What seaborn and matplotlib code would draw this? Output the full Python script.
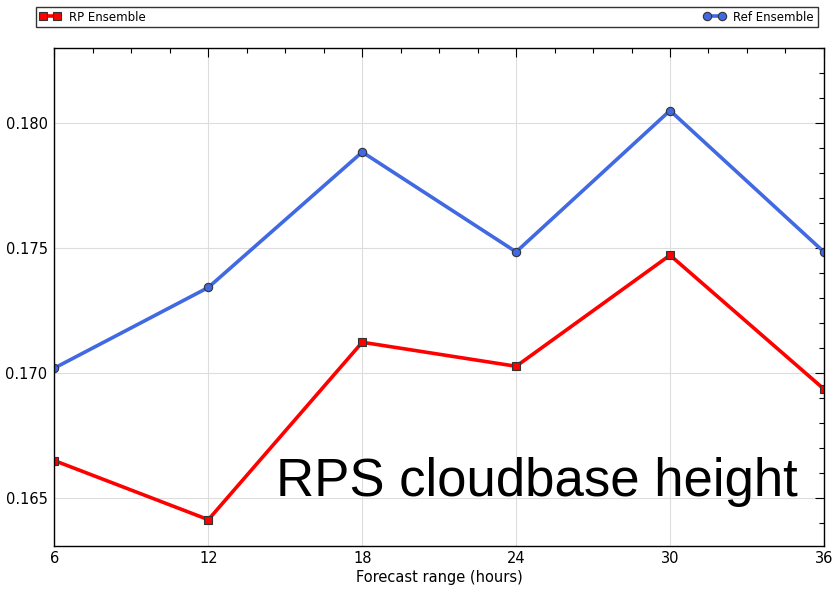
import matplotlib
matplotlib.use("Agg")
import matplotlib.pyplot as plt
import seaborn as sns
import pandas as pd
from matplotlib.ticker import MultipleLocator

hours = [6, 12, 18, 24, 30, 36]
rp_ensemble = [0.1665, 0.16414, 0.17123, 0.17027, 0.17471, 0.16936]
ref_ensemble = [0.17020, 0.17342, 0.17883, 0.17484, 0.18049, 0.17484]
series_names = ["RP Ensemble", "Ref Ensemble"]
yticks = [0.165, 0.170, 0.175, 0.180]
xticks = [6, 12, 18, 24, 30, 36]

df = pd.DataFrame({
    "hours": hours * 2,
    "value": rp_ensemble + ref_ensemble,
    "series": [series_names[0]] * len(hours) + [series_names[1]] * len(hours),
})

sns.set_style("white")
plt.rcParams["font.family"] = ["DejaVu Sans"]
plt.rcParams["text.color"] = "black"
plt.rcParams["axes.labelcolor"] = "black"
plt.rcParams["xtick.color"] = "black"
plt.rcParams["ytick.color"] = "black"

fig = plt.figure(figsize=(8.34, 5.89), dpi=100)
ax = fig.add_axes([0.0653, 0.0735, 0.9226, 0.8455])

palette = {"RP Ensemble": "#ff0000", "Ref Ensemble": "#4169e1"}
markers = {"RP Ensemble": "s", "Ref Ensemble": "o"}
sns.lineplot(data=df, x="hours", y="value", hue="series", style="series",
             palette=palette, markers=markers, dashes=False, linewidth=2.6,
             markersize=6, markeredgecolor="#333333", markeredgewidth=0.8,
             ax=ax, legend=True)

ax.set_xlim(6, 36)
ax.set_ylim(0.1631, 0.1830)
ax.set_xticks(xticks)
ax.set_yticks(yticks)
ax.set_yticklabels([f"{v:.3f}" for v in yticks])
ax.xaxis.set_minor_locator(MultipleLocator(1.5))
ax.yaxis.set_minor_locator(MultipleLocator(0.001))
ax.tick_params(which="both", direction="in", top=True, right=True, colors="black",
               labelsize=10.5)
ax.tick_params(which="major", length=6.5, width=0.8)
ax.tick_params(which="minor", length=3.5, width=0.8)
ax.tick_params(axis="x", pad=4)
ax.tick_params(axis="y", pad=5)
ax.grid(True, which="major", color="#dddddd", linewidth=0.8)
ax.set_axisbelow(True)
for s in ax.spines.values():
    s.set_visible(True)
    s.set_color("black")
    s.set_linewidth(1.0)

ax.set_xlabel("Forecast range (hours)", fontsize=10.5, color="black", labelpad=3)
ax.set_ylabel("")

handles, labels = ax.get_legend_handles_labels()
ax.legend(handles, labels, loc="lower left", ncol=2, mode="expand",
          bbox_to_anchor=(0.0427, 0.954, 0.9376, 0.0375),
          bbox_transform=fig.transFigure, fontsize=8.5, frameon=True,
          fancybox=False, edgecolor="black", borderaxespad=0,
          handlelength=1.8, handletextpad=0.7, borderpad=0.3,
          numpoints=2, labelcolor="black")
leg = ax.get_legend()
leg.get_frame().set_linewidth(1.0)
for h in leg.legend_handles:
    h.set_linewidth(2.6)
    h.set_markersize(6)

ax.text(0.957, 0.158, "RPS cloudbase height", transform=fig.transFigure,
        ha="right", va="baseline", fontsize=38, color="black",
        family=["Liberation Sans"])

fig.savefig("out.png", dpi=100)
